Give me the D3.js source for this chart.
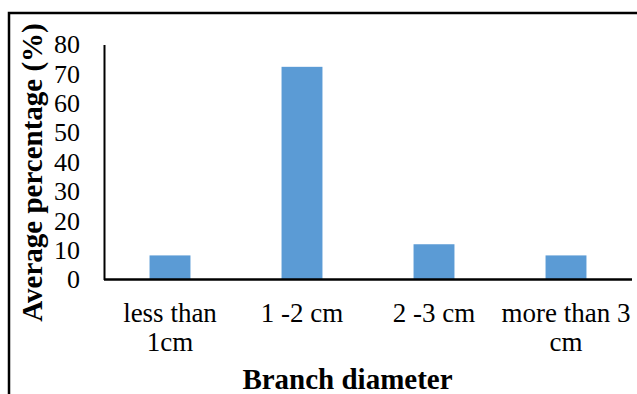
<!DOCTYPE html>
<html>
<head>
<meta charset="utf-8">
<script src="https://cdn.jsdelivr.net/npm/d3@7"></script>
<style>
  body { margin: 0; background: #fff; }
  svg { display: block; }
  text { font-family: "Liberation Serif", "Times New Roman", serif; fill: #000; }
</style>
</head>
<body>
<svg width="637" height="394"></svg>
<script>
var svg = d3.select("svg"),
    width = +svg.attr("width"),
    height = +svg.attr("height");

// data
var categories = [["less than", "1cm"], ["1 -2 cm"], ["2 -3 cm"], ["more than 3", "cm"]];
var values = [8.2, 72.4, 12, 8.2];
var yTicks = [0, 10, 20, 30, 40, 50, 60, 70, 80];

var plotLeft = 104, plotRight = 632, plotTop = 44.5, plotBottom = 279.5;

// frame (top and left edges only)
svg.append("path")
    .attr("d", "M9," + height + "V13H" + width)
    .attr("fill", "none")
    .attr("stroke", "#000")
    .attr("stroke-width", 2.5);

var x = d3.scaleBand()
    .domain(d3.range(categories.length))
    .range([plotLeft, plotRight])
    .paddingInner(0.69)
    .paddingOuter(0.345);

var y = d3.scaleLinear()
    .domain([0, 80])
    .range([plotBottom, plotTop]);

svg.append("g")
    .selectAll("rect")
    .data(values)
    .enter().append("rect")
    .attr("x", function(d, i) { return x(i); })
    .attr("width", x.bandwidth())
    .attr("y", function(d) { return y(d); })
    .attr("height", function(d) { return y(0) - y(d); })
    .attr("fill", "#5B9BD5");

// y axis: line only, labels on the left
var yAxis = svg.append("g")
    .attr("transform", "translate(" + plotLeft + ",0)")
    .call(d3.axisLeft(y).tickValues(yTicks).tickSize(0).tickPadding(24));
yAxis.select(".domain").attr("stroke", "#000").attr("stroke-width", 2);
yAxis.selectAll("text")
    .style("font-family", "Liberation Serif")
    .style("font-size", "26px")
    .attr("fill", "#000");

// x axis
var xAxis = svg.append("g")
    .attr("transform", "translate(0," + plotBottom + ")")
    .call(d3.axisBottom(x).tickSize(0).tickFormat(""));
xAxis.select(".domain")
    .attr("d", "M" + plotLeft + ",0H" + plotRight)
    .attr("stroke", "#000").attr("stroke-width", 2.5);

var labels = svg.append("g")
    .selectAll("text")
    .data(categories)
    .enter().append("text")
    .attr("text-anchor", "middle")
    .style("font-size", "27px")
    .attr("transform", function(d, i) {
        return "translate(" + (x(i) + x.bandwidth() / 2) + ",322)";
    });
labels.selectAll("tspan")
    .data(function(d) { return d; })
    .enter().append("tspan")
    .attr("x", 0)
    .attr("y", function(d, i) { return i * 29; })
    .text(function(d) { return d; });

// axis titles
svg.append("text")
    .attr("x", 347.5)
    .attr("y", 389)
    .attr("text-anchor", "middle")
    .style("font-size", "29px")
    .style("font-weight", "bold")
    .text("Branch diameter");

svg.append("text")
    .attr("transform", "translate(42,172.5) rotate(-90)")
    .attr("text-anchor", "middle")
    .style("font-size", "29px")
    .style("font-weight", "bold")
    .text("Average percentage (%)");
</script>
</body>
</html>
